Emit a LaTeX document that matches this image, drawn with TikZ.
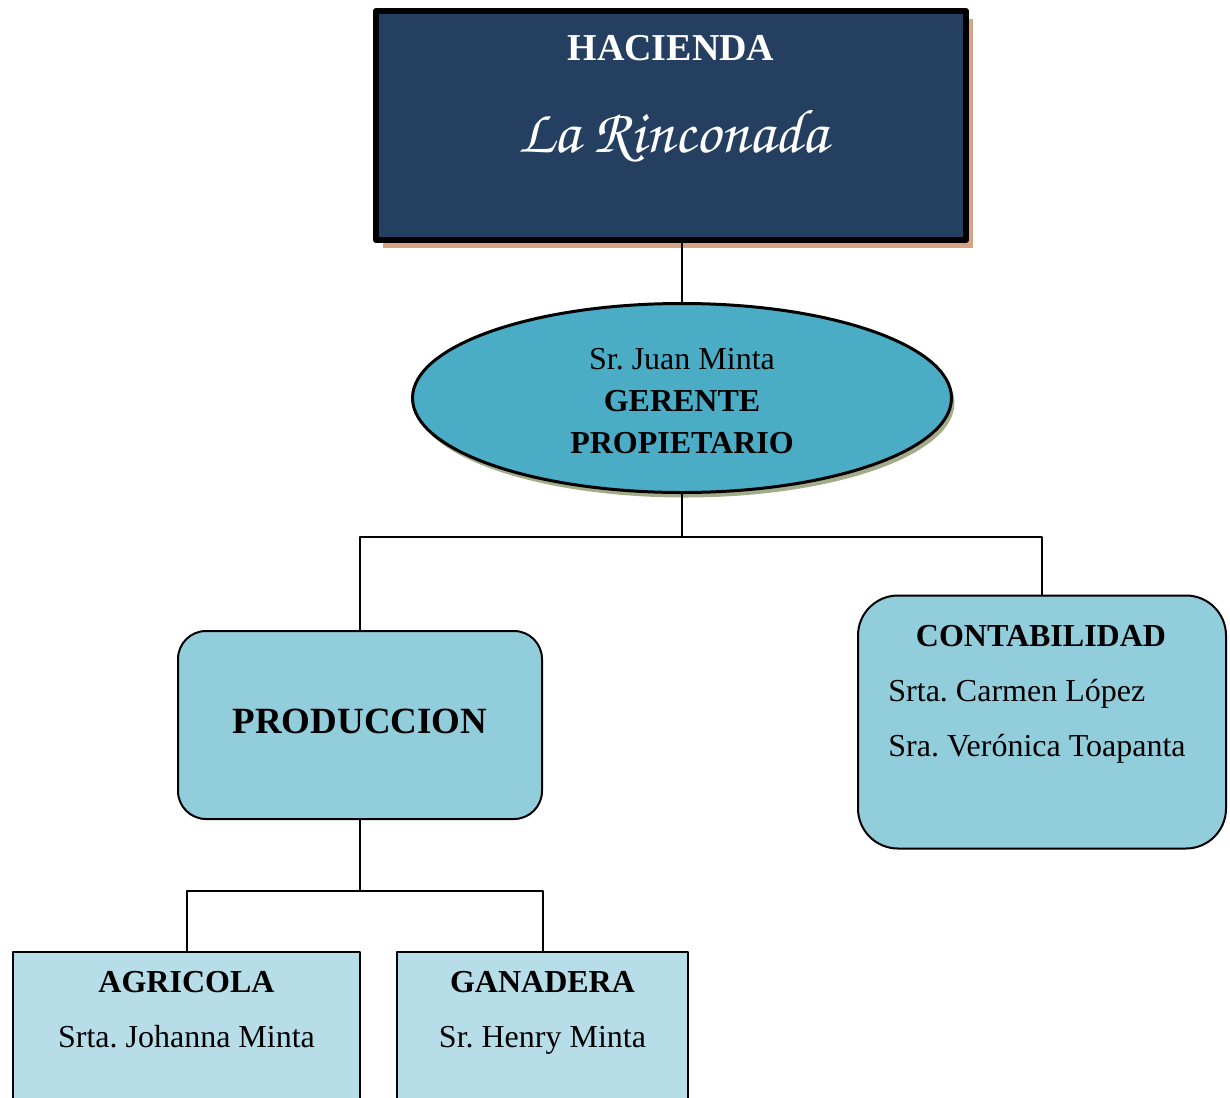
\documentclass[tikz,border=0pt]{standalone}
\usepackage[T1,TU]{fontenc}
\usepackage{fontspec}
\setmainfont{Liberation Serif}
\frenchspacing
\usetikzlibrary{shapes.geometric,shadows}
\definecolor{navyfill}{HTML}{243F60}
\definecolor{tanshadow}{HTML}{D3A584}
\definecolor{gerfill}{HTML}{4BACC6}
\definecolor{olivshadow}{HTML}{A3AC8A}
\definecolor{midfill}{HTML}{92CDDC}
\definecolor{lowfill}{HTML}{B7DEE8}
\newcommand{\rinconada}{\usefont{T1}{pzc}{mb}{it}\fontsize{31}{34}\selectfont}
\begin{document}
\begin{tikzpicture}[x=0.5pt, y=-0.5pt, line join=round, line cap=round,
	font=\fontsize{16}{21}\selectfont, every node/.style={inner sep=0pt},
	conn/.style={line width=1pt},
	topbox/.style={draw=black, line width=3pt, fill=navyfill, minimum width=295pt, minimum height=114.5pt,
		drop shadow={shadow xshift=3.5pt, shadow yshift=-4pt, fill=tanshadow, opacity=1}},
	gerente/.style={ellipse, draw=black, line width=1.5pt, fill=gerfill, align=center, minimum width=269.5pt, minimum height=94.5pt,
		drop shadow={shadow xshift=1.5pt, shadow yshift=-2.5pt, fill=olivshadow, opacity=1}},
	roundbox/.style={draw=black, line width=1pt, fill=midfill, rounded corners=#1},
	subbox/.style={draw=black, line width=1pt, fill=lowfill, minimum height=100pt},
	head/.style={font=\fontsize{16}{21}\selectfont\bfseries}]
	\useasboundingbox (0,0) rectangle (1230,1097);
	% hacienda
	\node[topbox] (hac) at (671,125.5) {};
	\node[white, font=\fontsize{19}{21}\selectfont\bfseries] (hactitle) at (671,48) {HACIENDA};
	\node[white, font=\rinconada] (hacname) at (673,136) {La Rinconada};
	% gerente
	\node[gerente] (ger) at (682,398) {};
	\node[align=center] (gertext) at (682,401) {Sr. Juan Minta\\\textbf{GERENTE}\\\textbf{PROPIETARIO}};
	\draw[conn] (ger.north) -- (ger.north |- hac.south);
	% areas
	\node[roundbox=14pt, minimum width=182pt, minimum height=94pt, text depth=4pt, font=\fontsize{18.5}{21}\selectfont\bfseries] (prod) at (360,725) {PRODUCCION};
	\node[roundbox=20pt, minimum width=184pt, minimum height=126.5pt] (cont) at (1042,722) {};
	\node[head] (conttitle) at (1041,636) {CONTABILIDAD};
	\node[align=left, anchor=west, font=\fontsize{16}{27.5}\selectfont] (contwho) at (888,721.5) {Srta. Carmen López\\Sra. Verónica Toapanta};
	\draw[conn] (ger.south) -- ++(0,43) coordinate (busA);
	\draw[conn] (prod.north) |- (busA) -| (cont.north);
	% produccion
	\foreach \n/\x/\w/\t/\p in {agri/186.5/173.5/AGRICOLA/Srta. Johanna Minta, gana/542.5/145.5/GANADERA/Sr. Henry Minta}{
		\node[subbox, minimum width=\w pt] (\n) at (\x,1052) {};
		\node[head] (\n-title) at (\x,982) {\t};
		\node[anchor=base] (\n-who) at (\x,1047) {\p};}
	\draw[conn] (prod.south) -- ++(0,71) coordinate (busB);
	\draw[conn] (agri.north) |- (busB) -| (gana.north);
\end{tikzpicture}
\end{document}
